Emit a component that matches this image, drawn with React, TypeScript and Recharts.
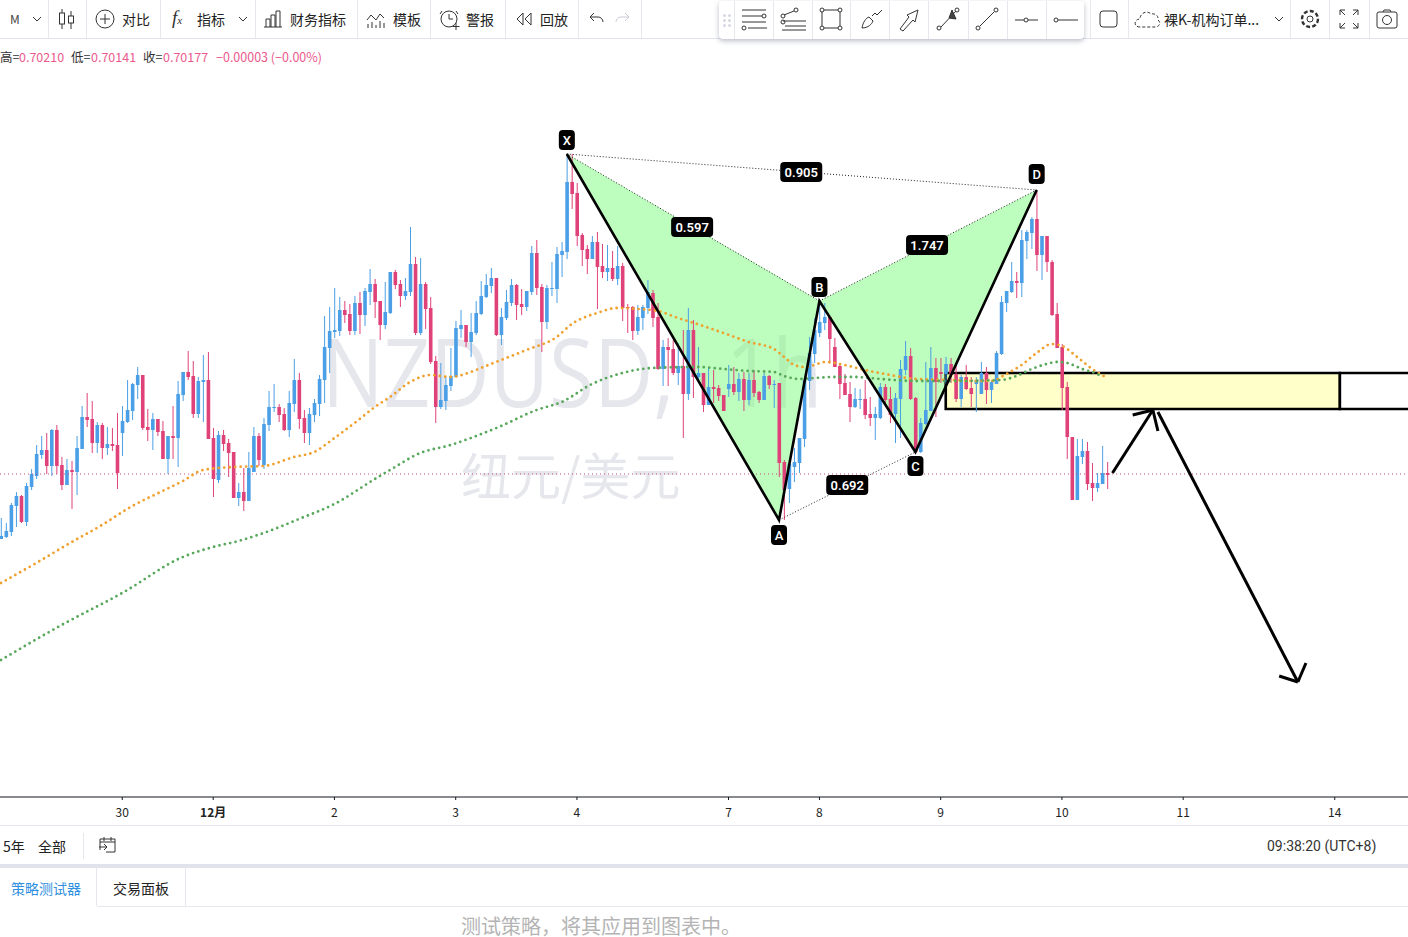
import { ComposedChart, Bar, Line, Area, XAxis, YAxis, ReferenceLine, ReferenceArea, ReferenceDot } from "recharts";

// prices are kept as ticks above BASE, one tick = 0.3 pip
const BASE = 0.69208;
const TICK = 0.00003;
const price = (t: number) => BASE + t * TICK;

const opens = [
  258, 260, 265, 291, 301, 275, 310, 321, 342, 347, 331, 367, 332, 312, 327, 325, 348, 380, 378, 354,
  372, 349, 353, 352, 364, 375, 386, 412, 422, 370, 367, 378, 366, 338, 361, 359, 402, 425, 421, 383,
  415, 417, 359, 317, 362, 354, 345, 299, 305, 296, 325, 361, 332, 372, 389, 390, 383, 367, 393, 417,
  379, 364, 382, 393, 417, 449, 465, 466, 487, 483, 466, 494, 482, 505, 513, 496, 472, 484, 525, 513,
  501, 505, 533, 464, 513, 489, 436, 390, 396, 411, 420, 468, 472, 455, 464, 483, 500, 511, 519, 462,
  479, 494, 512, 493, 490, 505, 544, 510, 475, 508, 508, 542, 545, 615, 604, 562, 548, 538, 555, 531,
  525, 529, 518, 531, 490, 490, 466, 479, 489, 504, 480, 428, 450, 448, 424, 431, 403, 467, 420, 424,
  392, 410, 409, 402, 408, 413, 405, 418, 397, 417, 405, 397, 421, 412, 414, 335, 308, 330, 334, 358,
  416, 443, 464, 474, 480, 450, 431, 414, 403, 390, 397, 398, 383, 379, 379, 410, 398, 383, 398, 427,
  441, 399, 345, 373, 386, 429, 425, 423, 433, 423, 398, 420, 409, 413, 403, 424, 407, 413, 443, 494,
  505, 516, 514, 556, 564, 578, 542, 561, 535, 483, 450, 410, 360, 297, 340, 346, 314, 309, 313, 324,
];
const closes = [
  261, 266, 292, 301, 275, 311, 323, 343, 347, 331, 367, 331, 312, 327, 325, 349, 380, 377, 354, 372,
  349, 353, 351, 324, 376, 387, 413, 422, 369, 367, 378, 365, 338, 361, 359, 403, 425, 420, 383, 416,
  417, 358, 318, 362, 353, 344, 299, 305, 296, 329, 361, 337, 373, 390, 390, 382, 367, 394, 417, 378,
  364, 383, 394, 418, 450, 466, 467, 487, 482, 466, 494, 482, 506, 513, 495, 472, 485, 525, 512, 501,
  506, 533, 464, 513, 488, 435, 390, 397, 412, 421, 469, 472, 455, 465, 484, 501, 512, 519, 462, 480,
  495, 512, 492, 490, 506, 544, 509, 475, 509, 509, 543, 546, 615, 603, 561, 547, 538, 555, 530, 525,
  529, 518, 531, 489, 489, 466, 480, 490, 505, 479, 428, 450, 447, 424, 431, 403, 467, 420, 424, 392,
  410, 408, 401, 386, 413, 405, 418, 397, 417, 404, 397, 421, 412, 413, 334, 307, 333, 335, 359, 417,
  444, 467, 475, 480, 458, 430, 413, 402, 390, 398, 398, 382, 379, 383, 410, 397, 382, 399, 428, 441,
  398, 345, 374, 387, 429, 415, 423, 433, 422, 398, 420, 408, 403, 417, 424, 407, 415, 444, 495, 506,
  516, 514, 557, 565, 578, 542, 561, 535, 482, 449, 409, 360, 297, 341, 346, 313, 309, 314, 324, 322,
];
const highs = [
  279, 274, 294, 305, 302, 314, 328, 352, 361, 364, 368, 372, 340, 338, 336, 361, 391, 404, 396, 375,
  374, 370, 369, 384, 391, 417, 414, 430, 422, 388, 384, 378, 376, 361, 391, 416, 425, 446, 436, 420,
  442, 445, 369, 366, 367, 358, 345, 314, 329, 345, 370, 364, 379, 406, 413, 393, 389, 406, 438, 424,
  387, 389, 398, 422, 481, 490, 509, 500, 496, 493, 501, 505, 509, 528, 518, 496, 515, 525, 527, 517,
  519, 570, 540, 539, 515, 500, 441, 434, 420, 449, 476, 487, 472, 484, 496, 516, 523, 529, 519, 489,
  507, 518, 513, 508, 506, 551, 557, 513, 512, 535, 550, 555, 643, 643, 614, 564, 552, 561, 565, 553,
  552, 546, 551, 534, 493, 491, 492, 492, 517, 507, 494, 457, 459, 457, 454, 467, 489, 477, 450, 424,
  429, 427, 412, 402, 432, 430, 424, 425, 424, 427, 406, 424, 422, 417, 414, 337, 337, 349, 359, 417,
  460, 479, 496, 494, 480, 459, 434, 423, 415, 409, 408, 417, 400, 390, 414, 413, 410, 404, 437, 456,
  449, 400, 379, 435, 450, 439, 439, 440, 439, 432, 422, 432, 420, 420, 435, 430, 417, 446, 501, 506,
  535, 525, 567, 567, 580, 607, 561, 561, 537, 494, 453, 415, 360, 358, 358, 355, 334, 324, 351, 335,
];
const lows = [
  258, 259, 261, 270, 274, 271, 307, 318, 338, 323, 321, 323, 307, 312, 288, 302, 348, 370, 344, 344,
  338, 342, 346, 308, 341, 374, 377, 398, 367, 356, 347, 361, 338, 323, 338, 330, 396, 417, 379, 379,
  375, 358, 300, 314, 346, 320, 299, 291, 286, 296, 325, 331, 328, 366, 385, 375, 366, 360, 385, 368,
  354, 352, 375, 381, 394, 424, 459, 461, 474, 462, 462, 463, 471, 492, 479, 457, 468, 483, 508, 490,
  497, 501, 462, 462, 468, 433, 374, 388, 387, 406, 420, 459, 450, 440, 462, 482, 499, 504, 461, 452,
  477, 491, 477, 482, 486, 502, 502, 445, 468, 501, 494, 520, 538, 588, 551, 531, 523, 538, 488, 519,
  516, 516, 512, 476, 464, 457, 462, 467, 483, 470, 427, 411, 411, 422, 412, 359, 397, 399, 415, 385,
  392, 394, 396, 386, 400, 402, 396, 386, 392, 400, 394, 397, 408, 389, 320, 277, 294, 315, 324, 350,
  407, 434, 460, 467, 434, 430, 398, 402, 375, 389, 388, 378, 371, 357, 378, 393, 374, 354, 359, 422,
  397, 344, 344, 372, 386, 380, 414, 413, 414, 395, 390, 407, 390, 385, 403, 393, 394, 413, 442, 485,
  504, 499, 500, 538, 548, 526, 517, 525, 481, 449, 387, 338, 297, 297, 333, 307, 296, 305, 313, 308,
];

// moving averages, read at the bars where the dots are easiest to see
const fastBars = [0, 8, 13, 20, 26, 32, 36, 40, 46, 52, 58, 62, 66, 71, 74, 77, 81, 85, 89, 93, 95, 99, 104, 110, 113, 118, 122, 126, 130, 134, 139, 143, 148, 153, 155, 157, 159, 161, 163, 167, 171, 176, 181, 188, 193, 196, 199, 202, 205, 208, 210, 213, 216, 219];
const fastValues = [214, 237, 252, 272, 291, 306, 316, 327, 330, 331, 340, 345, 359, 378, 390, 400, 415, 422, 420, 425, 429, 437, 447, 460, 473, 484, 489, 488, 486, 479, 471, 464, 455, 448, 440, 432, 430, 432, 435, 432, 427, 422, 418, 417, 416, 416, 423, 432, 444, 453, 451, 440, 428, 419];
const slowBars = [0, 12, 24, 36, 42, 47, 52, 59, 66, 74, 77, 83, 89, 93, 99, 106, 111, 117, 123, 129, 138, 143, 148, 153, 155, 158, 161, 165, 169, 174, 181, 188, 198, 201, 204, 207, 209, 211, 214, 217, 218];
const slowValues = [137, 172, 204, 240, 250, 256, 264, 278, 293, 318, 327, 344, 352, 359, 371, 387, 395, 413, 424, 429, 430, 428, 426, 425, 421, 418, 419, 420, 420, 418, 416, 416, 417, 421, 428, 433, 435, 434, 428, 423, 420];

// harmonic pattern legs: bar, ticks
const patternNames = ["X", "A", "B", "C", "D"];
const patternBars = [112, 154, 162, 181, 205];
const patternValues = [643, 277, 496, 345, 607];
const patternLabelBars = [112, 154, 162, 181, 205];
const patternLabelValues = [657, 262, 510, 331, 623];

const ratioLabels = ["0.905", "0.597", "1.747", "0.692"];
const ratioBars = [158.4, 136.8, 183.3, 167.5];
const ratioValues = [625, 570, 552, 312];

// thin dotted links between pattern points: XD, XB, BD, AC
const links = [[0, 4], [0, 2], [2, 4], [1, 3]];

// hand drawn arrows [bar1, ticks1, bar2, ticks2]
const arrows = [
  [220, 324, 228, 387],
  [224, 382, 228, 387],
  [229, 366, 228, 387],
  [229, 385, 256.7, 115],
  [253, 121, 256.7, 115],
  [258.3, 134, 256.7, 115],
];

const dayTicks = [24, 42, 66, 90, 114, 144, 162, 186, 210, 234, 264];
const dayLabels = ["30", "12月", "2", "3", "4", "7", "8", "9", "10", "11", "14"];
const lastPriceTicks = 323;

const UP = "#4a9fe6";
const DOWN = "#df4279";
const PINK_TEXT = "#ec5a8c";
const CJK = '"Noto Sans CJK SC", "Noto Sans", sans-serif';

const candles = opens.map((o, i) => ({
  i,
  open: price(o),
  close: price(closes[i]),
  high: price(highs[i]),
  low: price(lows[i]),
  range: [price(lows[i]), price(highs[i])],
}));
const toRows = (bars: number[], values: number[]) => bars.map((b, k) => ({ i: b, v: price(values[k]) }));
const pattern = toRows(patternBars, patternValues);

const leftWing = [
  { i: 112, band: [price(643), price(643)] },
  { i: 154, band: [price(277), price(520)] },
  { i: 162, band: [price(496), price(496)] },
];
const rightWing = [
  { i: 162, band: [price(496), price(496)] },
  { i: 181, band: [price(345), price(545)] },
  { i: 205, band: [price(607), price(607)] },
];

const Candle = (props: any) => {
  const { x, y, width, height, payload } = props;
  const pxPer = height / (payload.high - payload.low || 1);
  const yOf = (p: number) => y + (payload.high - p) * pxPer;
  const color = payload.close >= payload.open ? UP : DOWN;
  const top = yOf(Math.max(payload.open, payload.close));
  const bottom = yOf(Math.min(payload.open, payload.close));
  const cx = x + width / 2;
  return (
    <g>
      <line x1={cx} x2={cx} y1={y} y2={y + height} stroke={color} strokeWidth={1} />
      <rect x={x} y={top} width={width} height={Math.max(bottom - top, 1)} fill={color} />
    </g>
  );
};

const tagShape = (text: string, w: number) => (props: any) => (
  <g>
    <rect x={props.cx - w / 2} y={props.cy - 10} width={w} height={20} rx={4} fill="#000" />
    <text x={props.cx} y={props.cy + 4.5} textAnchor="middle" fill="#fff" fontSize={13} fontWeight={w > 30 ? 600 : 500} fontFamily="Roboto, sans-serif">{text}</text>
  </g>
);

const DayTick = ({ x, y, payload }: any) => {
  const label = dayLabels[dayTicks.indexOf(payload.value)];
  return (
    <text x={x} y={y + 15} textAnchor="middle" fontSize={12} fontWeight={label === "12月" ? 700 : 400} fill="#222" fontFamily={CJK}>
      {label}
    </text>
  );
};

const Icon = ({ x, w = 24, children }: any) => (
  <svg style={{ position: "absolute", left: x - w / 2, top: 7, overflow: "visible" }} width={w} height={24} fill="none" stroke="#333" strokeWidth={1}>
    {children}
  </svg>
);

const Label = ({ x, y = 19, size = 14, color = "#222", children }: any) => (
  <div style={{ position: "absolute", left: x, top: y, transform: "translateY(-50%)", fontSize: size, color, whiteSpace: "nowrap", fontFamily: CJK, lineHeight: 1 }}>
    {children}
  </div>
);

const Sep = ({ x, top = 0, h = 38 }: any) => (
  <div style={{ position: "absolute", left: x, top, width: 1, height: h, background: "#e6e8ee" }} />
);

const topSeps = [48, 86, 160, 255, 357, 430, 505, 578, 641];
const drawSeps = [734, 773, 812, 850, 889, 928, 968, 1007, 1046];
const rightSeps = [1090, 1128, 1290, 1329, 1369];
const gripXs = [724, 729];
const gripYs = [15, 20, 25];

const DrawTools = () => (
  <div style={{ position: "absolute", left: 719, top: 1, width: 365, height: 38, background: "#fff", borderRadius: 4, boxShadow: "0 2px 5px rgba(60,70,100,.35)" }} />
);

export default function App() {
  return (
    <div style={{ position: "relative", width: 1408, height: 937, overflow: "hidden", background: "#fff" }}>
      <style>{`body{margin:0}`}</style>

      {/* watermark */}
      <div style={{ position: "absolute", left: 322, top: 315, fontSize: 95, lineHeight: "110px", color: "#e6e7ec", fontFamily: '"Open Sans", sans-serif', whiteSpace: "nowrap", transform: "scaleX(0.86)", transformOrigin: "left top", wordSpacing: 35 }}>NZDUSD, 1h</div>
      <div style={{ position: "absolute", left: 461, top: 443, fontSize: 50, lineHeight: "60px", color: "#e6e7ec", fontFamily: CJK, whiteSpace: "nowrap" }}>纽元/美元</div>

      <div style={{ position: "absolute", left: 0, top: 40 }}>
        <ComposedChart width={1408} height={785} data={candles} margin={{ top: 0, right: 0, bottom: 0, left: 0 }}>
          <XAxis
            dataKey="i" type="number" domain={[-0.2, 278.5]} allowDataOverflow
            ticks={dayTicks} tick={<DayTick />} tickSize={3} height={28}
            stroke="#131722" interval={0}
          />
          <YAxis hide type="number" domain={[price(0), price(757)]} allowDataOverflow />

          <Area data={leftWing} dataKey="band" type="linear" stroke="none" fill="#7cfc7c" fillOpacity={0.5} isAnimationActive={false} dot={false} activeDot={false} />
          <Area data={rightWing} dataKey="band" type="linear" stroke="none" fill="#7cfc7c" fillOpacity={0.5} isAnimationActive={false} dot={false} activeDot={false} />

          <ReferenceLine y={price(lastPriceTicks)} stroke="#c8487c" strokeDasharray="1 3" strokeWidth={1} />

          <Bar dataKey="range" barSize={3.6} shape={<Candle />} isAnimationActive={false} />

          <Line data={toRows(fastBars, fastValues)} dataKey="v" type="monotone" stroke="#f0a02c" strokeWidth={2.8} strokeDasharray="0 5.5" strokeLinecap="round" dot={false} activeDot={false} isAnimationActive={false} />
          <Line data={toRows(slowBars, slowValues)} dataKey="v" type="monotone" stroke="#58a85c" strokeWidth={2.8} strokeDasharray="0 5.5" strokeLinecap="round" dot={false} activeDot={false} isAnimationActive={false} />

          <ReferenceArea x1={265} x2={280} y1={price(388)} y2={price(424)} fill="#fff" fillOpacity={0} stroke="#000" strokeWidth={2.6} ifOverflow="visible" />
          <ReferenceArea x1={187} x2={265} y1={price(388)} y2={price(424)} fill="#ffff80" fillOpacity={0.42} stroke="#000" strokeWidth={2.6} ifOverflow="visible" />

          {links.map(([a, b]) => (
            <ReferenceLine
              key={`${a}-${b}`}
              segment={[{ x: patternBars[a], y: price(patternValues[a]) }, { x: patternBars[b], y: price(patternValues[b]) }]}
              stroke="#222" strokeWidth={1} strokeDasharray="1 2" ifOverflow="visible"
            />
          ))}

          <Line data={pattern} dataKey="v" type="linear" stroke="#000" strokeWidth={2.6} dot={false} activeDot={false} isAnimationActive={false} />

          {arrows.map(([x1, y1, x2, y2], k) => (
            <ReferenceLine
              key={k}
              segment={[{ x: x1, y: price(y1) }, { x: x2, y: price(y2) }]}
              stroke="#000" strokeWidth={3} ifOverflow="visible"
            />
          ))}

          {patternNames.map((n, k) => (
            <ReferenceDot key={n} x={patternLabelBars[k]} y={price(patternLabelValues[k])} r={0} ifOverflow="visible" shape={tagShape(n, 16)} />
          ))}
          {ratioLabels.map((n, k) => (
            <ReferenceDot key={n} x={ratioBars[k]} y={price(ratioValues[k])} r={0} ifOverflow="visible" shape={tagShape(n, 42)} />
          ))}
        </ComposedChart>
      </div>

      {/* top toolbar */}
      <div style={{ position: "absolute", left: 0, top: 0, width: 1408, height: 38, background: "#fff", borderBottom: "1px solid #e0e3eb" }} />
      {[...topSeps, ...rightSeps].map((x) => <Sep key={x} x={x} />)}
      <Label x={10} size={12} color="#444">M</Label>
      <Icon x={37}><path d="M8 10l4 4 4-4" /></Icon>
      <Icon x={67}>
        <path d="M7 2v20M16 4v18" /><rect x="4.5" y="6" width="5" height="11" fill="#fff" /><rect x="13.5" y="9" width="5" height="7" fill="#fff" />
      </Icon>
      <Icon x={105}><circle cx="12" cy="12" r="9" /><path d="M12 7v10M7 12h10" /></Icon>
      <Label x={122}>对比</Label>
      <div style={{ position: "absolute", left: 172, top: 8, fontSize: 19, fontStyle: "italic", fontFamily: "Liberation Serif, serif", color: "#333", lineHeight: "20px" }}>f<span style={{ fontSize: 11 }}>x</span></div>
      <Label x={197}>指标</Label>
      <Icon x={243}><path d="M8 10l4 4 4-4" /></Icon>
      <Icon x={273}><path d="M3 20h18M5 20v-8h4v8M10 20V8h4v12M15 20V4h4v16" /></Icon>
      <Label x={290}>财务指标</Label>
      <Icon x={376}><path d="M3 13l4-5 5 5 4-6 4 4M4 21v-4M8 21v-6M12 21v-3M16 21v-7M20 21v-5" /></Icon>
      <Label x={393}>模板</Label>
      <Icon x={450}>
        <circle cx="11" cy="12" r="8" /><path d="M11 7v5h4M4 4l-2 3M18 4l2 3M18 16v7M14.5 19.5h7" />
      </Icon>
      <Label x={466}>警报</Label>
      <Icon x={524}><path d="M11 6l-6 6 6 6zM19 6l-6 6 6 6z" /></Icon>
      <Label x={540}>回放</Label>
      <Icon x={596}><path d="M6 10h8a5 5 0 0 1 5 5M6 10l4-4M6 10l4 4" /></Icon>
      <Icon x={623}><g stroke="#c8ccd6"><path d="M18 10h-8a5 5 0 0 0-5 5M18 10l-4-4M18 10l-4 4" /></g></Icon>

      <DrawTools />
      {drawSeps.map((x) => <Sep key={x} x={x} top={1} />)}
      {gripXs.map((x) => gripYs.map((y) => (
        <div key={`${x}-${y}`} style={{ position: "absolute", left: x - 1, top: y - 1, width: 3, height: 3, borderRadius: 2, background: "#d6d9e2" }} />
      )))}
      <Icon x={753}><path d="M1 3h24M1 9h20M1 15h24M7 21h19" /><circle cx="23" cy="9" r="2" /><circle cx="3" cy="21" r="2" /></Icon>
      <Icon x={792}><path d="M3 14h23M5 19h21M2 23h24M4 8l10-4" /><circle cx="3" cy="9" r="2" /><circle cx="16" cy="3" r="2" /><circle cx="3" cy="15" r="2" /></Icon>
      <Icon x={831}><rect x="3" y="3" width="18" height="18" /><circle cx="3" cy="3" r="2" fill="#fff" /><circle cx="21" cy="3" r="2" fill="#fff" /><circle cx="3" cy="21" r="2" fill="#fff" /><circle cx="21" cy="21" r="2" fill="#fff" /></Icon>
      <Icon x={871}><path d="M3 21c1-6 4-10 7-11l4 4c-1 3-5 7-11 7zM13 9l3-3 2 2 5-5" /></Icon>
      <Icon x={909}><path d="M3 22l9-12-2-2 11-5-3 12-2-2-10 11z" /></Icon>
      <Icon x={948}><path d="M5 20L20 4" /><circle cx="3" cy="21" r="2" /><circle cx="21" cy="3" r="2" /><path d="M16 3l4 9-7-1z" fill="#444" /></Icon>
      <Icon x={987}><path d="M5 19L19 5" /><circle cx="3" cy="21" r="2" /><circle cx="21" cy="3" r="2" /></Icon>
      <Icon x={1026}><path d="M1 13h9M14 13h10" /><circle cx="12" cy="13" r="2" /></Icon>
      <Icon x={1065}><path d="M5 13h20" /><circle cx="3" cy="13" r="2" /></Icon>
      <Icon x={1109}><rect x="3" y="4" width="17" height="16" rx="3" /></Icon>
      <Icon x={1148} w={26}><path d="M5 20c-7 0-6-8 0-8 0-6 7-9 11-5 4-1 8 2 7 6 3 2 2 7-3 7z" strokeDasharray="3 2" /></Icon>
      <Label x={1164}>裸K-机构订单...</Label>
      <Icon x={1279}><path d="M8 10l4 4 4-4" /></Icon>
      <Icon x={1310}><circle cx="12" cy="12" r="3" /><circle cx="12" cy="12" r="8" strokeDasharray="4 2.2" strokeWidth={2.4} /></Icon>
      <Icon x={1349}><path d="M3 8V3h5M16 3h5v5M21 16v5h-5M8 21H3v-5M3 3l5 5M21 3l-5 5M21 21l-5-5M3 21l5-5" /></Icon>
      <Icon x={1387}><rect x="2" y="5" width="20" height="16" rx="2" /><circle cx="12" cy="13" r="4.5" /><path d="M8 5l1-2h6l1 2" /></Icon>

      {/* ohlc line */}
      <Label x={0} y={57} size={12.5} color="#333">高=</Label>
      <Label x={19} y={57} size={12.5} color={PINK_TEXT}>0.70210</Label>
      <Label x={71} y={57} size={12.5} color="#333">低=</Label>
      <Label x={91} y={57} size={12.5} color={PINK_TEXT}>0.70141</Label>
      <Label x={143} y={57} size={12.5} color="#333">收=</Label>
      <Label x={163} y={57} size={12.5} color={PINK_TEXT}>0.70177</Label>
      <Label x={216} y={57} size={12.5} color={PINK_TEXT}>−0.00003 (−0.00%)</Label>

      {/* bottom bars */}
      <div style={{ position: "absolute", left: 0, top: 825, width: 1408, height: 1, background: "#e6e8ee" }} />
      <Label x={3} y={846}>5年</Label>
      <Label x={38} y={846}>全部</Label>
      <Sep x={83} top={833} h={26} />
      <svg style={{ position: "absolute", left: 98, top: 836, overflow: "visible" }} width={20} height={18} fill="none" stroke="#333">
        <path d="M2 14V3h15v13H8M2 6h15M6 1v4M13 1v4M1 11h8M6 8l3 3-3 3" />
      </svg>
      <Label x={1267} y={845} size={14} color="#333"><span style={{ fontFamily: "Roboto, sans-serif" }}>09:38:20 (UTC+8)</span></Label>
      <div style={{ position: "absolute", left: 0, top: 864, width: 1408, height: 4, background: "#e0e3eb" }} />
      <Label x={11} y={888} color="#2f8fe0">策略测试器</Label>
      <Sep x={96} top={868} h={38} />
      <Label x={113} y={888}>交易面板</Label>
      <Sep x={185} top={868} h={38} />
      <div style={{ position: "absolute", left: 97, top: 906, width: 1311, height: 1, background: "#e6e8ee" }} />
      <Label x={461} y={926} size={20} color="#b4b4b4">测试策略，将其应用到图表中。</Label>
    </div>
  );
}
